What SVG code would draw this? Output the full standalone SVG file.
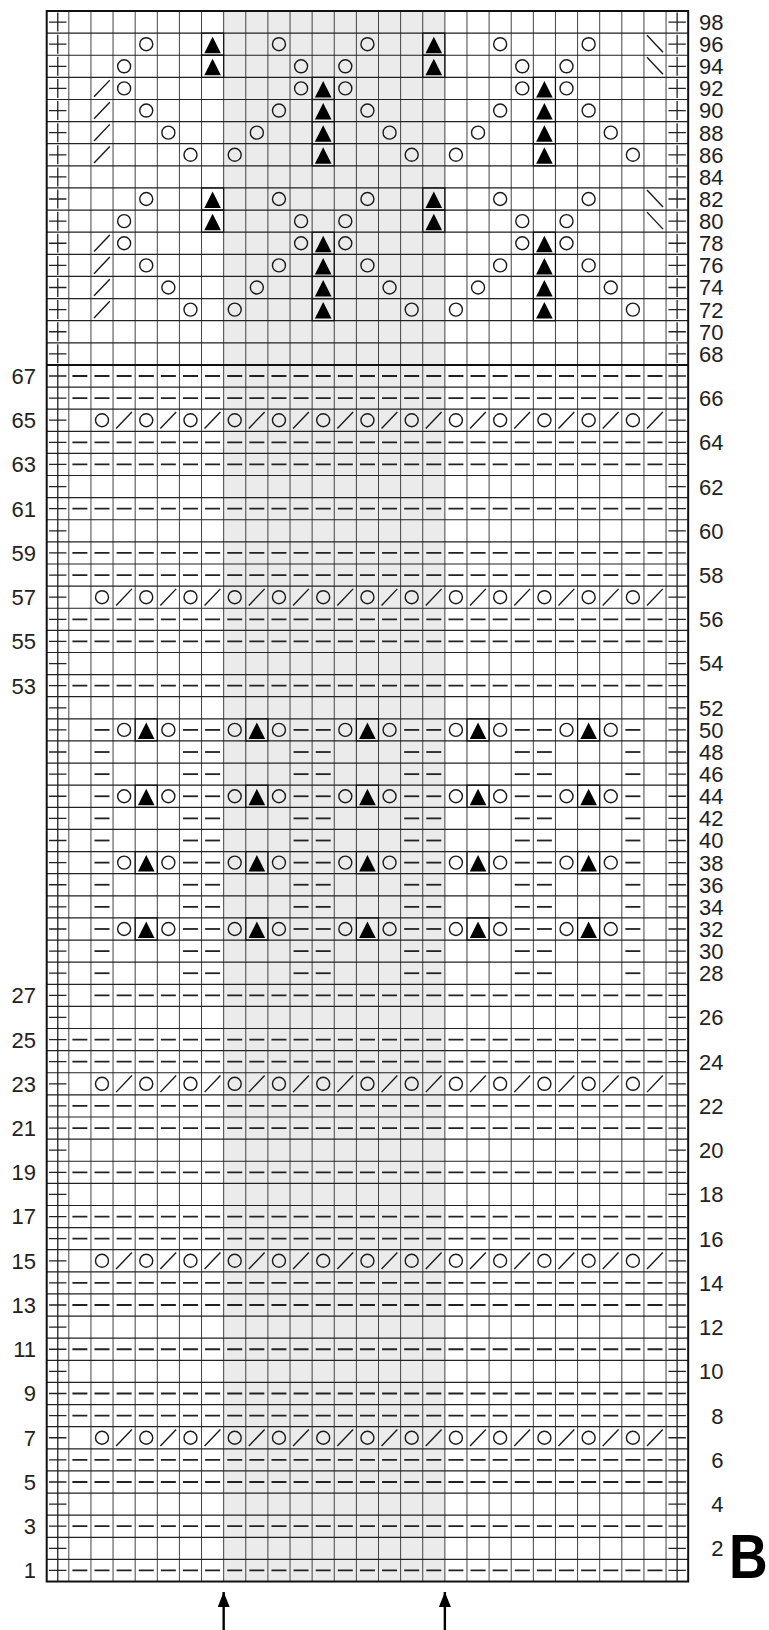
<svg xmlns="http://www.w3.org/2000/svg" width="769" height="1630" viewBox="0 0 769 1630">
<style>
.hl{stroke:#222;stroke-width:1.2;fill:none}
.vl{stroke:#444;stroke-width:1;fill:none}
.sym{stroke:#1a1a1a;stroke-width:1.4;fill:none}
.dash{stroke:#222;stroke-width:1.8;fill:none}
.box{stroke:#111;stroke-width:1.2;fill:none}
.lbl{font-family:"Liberation Sans",Arial,sans-serif;font-size:22px;fill:#222;text-anchor:end}
</style>
<defs>
<circle id="o" r="6.5" class="sym"/>
<line id="s" x1="-8" y1="8.3" x2="7.8" y2="-8.3" class="sym"/>
<line id="b" x1="-8" y1="-9" x2="8" y2="8" class="sym"/>
<g id="t"><rect x="-11.06" y="-11.06" width="22.12" height="22.12" class="box"/><path d="M0,-7.5L8.3,9L-8.3,9Z" fill="#000"/></g>
<line id="d" x1="-7.5" y1="0" x2="7.5" y2="0" class="dash"/>
<line id="drow" x1="72.38" y1="0" x2="662.5" y2="0" class="dash" stroke-dasharray="15 7.12"/>
<line id="drow2" x1="94.5" y1="0" x2="662.5" y2="0" class="dash" stroke-dasharray="15 7.12"/>
<g id="orow">
<use href="#o" x="102"/><use href="#o" x="146.24"/><use href="#o" x="190.48"/><use href="#o" x="234.72"/><use href="#o" x="278.96"/><use href="#o" x="323.2"/><use href="#o" x="367.44"/><use href="#o" x="411.68"/><use href="#o" x="455.92"/><use href="#o" x="500.16"/><use href="#o" x="544.4"/><use href="#o" x="588.64"/><use href="#o" x="632.88"/>
<use href="#s" x="124.12"/><use href="#s" x="168.36"/><use href="#s" x="212.6"/><use href="#s" x="256.84"/><use href="#s" x="301.08"/><use href="#s" x="345.32"/><use href="#s" x="389.56"/><use href="#s" x="433.8"/><use href="#s" x="478.04"/><use href="#s" x="522.28"/><use href="#s" x="566.52"/><use href="#s" x="610.76"/><use href="#s" x="655"/>
</g>
<g id="rowB">
<use href="#d" x="102"/><use href="#d" x="190.48"/><use href="#d" x="212.6"/><use href="#d" x="301.08"/><use href="#d" x="323.2"/><use href="#d" x="411.68"/><use href="#d" x="433.8"/><use href="#d" x="522.28"/><use href="#d" x="544.4"/><use href="#d" x="632.88"/>
</g>
<g id="trip"><use href="#o" x="-22.12"/><use href="#t"/><use href="#o" x="22.12"/></g>
<g id="rowA">
<use href="#rowB"/>
<use href="#trip" x="146.24"/><use href="#trip" x="256.84"/><use href="#trip" x="367.44"/><use href="#trip" x="478.04"/><use href="#trip" x="588.64"/>
</g>
<g id="lace3"><use href="#rowA"/><use href="#rowB" y="22.12"/><use href="#rowB" y="44.24"/></g>
<g id="motif">
<use href="#o" x="146.24" y="44.18"/><use href="#t" x="212.6" y="44.18"/><use href="#o" x="278.96" y="44.18"/><use href="#o" x="367.44" y="44.18"/><use href="#t" x="433.8" y="44.18"/><use href="#o" x="500.16" y="44.18"/><use href="#o" x="588.64" y="44.18"/><use href="#b" x="655" y="44.18"/>
<use href="#o" x="124.12" y="66.3"/><use href="#t" x="212.6" y="66.3"/><use href="#o" x="301.08" y="66.3"/><use href="#o" x="345.32" y="66.3"/><use href="#t" x="433.8" y="66.3"/><use href="#o" x="522.28" y="66.3"/><use href="#o" x="566.52" y="66.3"/><use href="#b" x="655" y="66.3"/>
<use href="#s" x="102" y="88.42"/><use href="#o" x="124.12" y="88.42"/><use href="#o" x="301.08" y="88.42"/><use href="#t" x="323.2" y="88.42"/><use href="#o" x="345.32" y="88.42"/><use href="#o" x="522.28" y="88.42"/><use href="#t" x="544.4" y="88.42"/><use href="#o" x="566.52" y="88.42"/>
<use href="#s" x="102" y="110.54"/><use href="#o" x="146.24" y="110.54"/><use href="#o" x="278.96" y="110.54"/><use href="#t" x="323.2" y="110.54"/><use href="#o" x="367.44" y="110.54"/><use href="#o" x="500.16" y="110.54"/><use href="#t" x="544.4" y="110.54"/><use href="#o" x="588.64" y="110.54"/>
<use href="#s" x="102" y="132.66"/><use href="#o" x="168.36" y="132.66"/><use href="#o" x="256.84" y="132.66"/><use href="#t" x="323.2" y="132.66"/><use href="#o" x="389.56" y="132.66"/><use href="#o" x="478.04" y="132.66"/><use href="#t" x="544.4" y="132.66"/><use href="#o" x="610.76" y="132.66"/>
<use href="#s" x="102" y="154.78"/><use href="#o" x="190.48" y="154.78"/><use href="#o" x="234.72" y="154.78"/><use href="#t" x="323.2" y="154.78"/><use href="#o" x="411.68" y="154.78"/><use href="#o" x="455.92" y="154.78"/><use href="#t" x="544.4" y="154.78"/><use href="#o" x="632.88" y="154.78"/>
</g>
<g id="pcol">
<line x1="0" y1="21.41" x2="0" y2="1581.52" stroke="#222" stroke-width="17.4" stroke-dasharray="1.3 20.82"/>
<line x1="0" y1="12.56" x2="0" y2="364.92" stroke="#222" stroke-width="1.3" stroke-dasharray="19 3.12"/>
<line x1="0" y1="364.92" x2="0" y2="1581.52" stroke="#222" stroke-width="1.3"/>
</g>
<marker id="ah" viewBox="0 0 15 12" refX="15" refY="6" markerWidth="15" markerHeight="12" markerUnits="userSpaceOnUse" orient="auto"><path d="M0,0L15,6L0,12Z" fill="#000"/></marker>
</defs>
<rect width="769" height="1630" fill="#fff"/>
<g id="chart">
<rect id="shade" x="223.66" y="11" width="221.2" height="1570.52" fill="#ebebeb"/>
<path id="vgrid" class="vl" d="M68.82 11V1581.52M90.94 11V1581.52M113.06 11V1581.52M135.18 11V1581.52M157.3 11V1581.52M179.42 11V1581.52M201.54 11V1581.52M223.66 11V1581.52M245.78 11V1581.52M267.9 11V1581.52M290.02 11V1581.52M312.14 11V1581.52M334.26 11V1581.52M356.38 11V1581.52M378.5 11V1581.52M400.62 11V1581.52M422.74 11V1581.52M444.86 11V1581.52M466.98 11V1581.52M489.1 11V1581.52M511.22 11V1581.52M533.34 11V1581.52M555.46 11V1581.52M577.58 11V1581.52M599.7 11V1581.52M621.82 11V1581.52M643.94 11V1581.52M666.06 11V1581.52"/>
<path id="hgrid" class="hl" d="M46.7 33.12H688.18M46.7 55.24H688.18M46.7 77.36H688.18M46.7 99.48H688.18M46.7 121.6H688.18M46.7 143.72H688.18M46.7 165.84H688.18M46.7 187.96H688.18M46.7 210.08H688.18M46.7 232.2H688.18M46.7 254.32H688.18M46.7 276.44H688.18M46.7 298.56H688.18M46.7 320.68H688.18M46.7 342.8H688.18M46.7 387.04H688.18M46.7 409.16H688.18M46.7 431.28H688.18M46.7 453.4H688.18M46.7 475.52H688.18M46.7 497.64H688.18M46.7 519.76H688.18M46.7 541.88H688.18M46.7 564H688.18M46.7 586.12H688.18M46.7 608.24H688.18M46.7 630.36H688.18M46.7 652.48H688.18M46.7 674.6H688.18M46.7 696.72H688.18M46.7 718.84H688.18M46.7 740.96H688.18M46.7 763.08H688.18M46.7 785.2H688.18M46.7 807.32H688.18M46.7 829.44H688.18M46.7 851.56H688.18M46.7 873.68H688.18M46.7 895.8H688.18M46.7 917.92H688.18M46.7 940.04H688.18M46.7 962.16H688.18M46.7 984.28H688.18M46.7 1006.4H688.18M46.7 1028.52H688.18M46.7 1050.64H688.18M46.7 1072.76H688.18M46.7 1094.88H688.18M46.7 1117H688.18M46.7 1139.12H688.18M46.7 1161.24H688.18M46.7 1183.36H688.18M46.7 1205.48H688.18M46.7 1227.6H688.18M46.7 1249.72H688.18M46.7 1271.84H688.18M46.7 1293.96H688.18M46.7 1316.08H688.18M46.7 1338.2H688.18M46.7 1360.32H688.18M46.7 1382.44H688.18M46.7 1404.56H688.18M46.7 1426.68H688.18M46.7 1448.8H688.18M46.7 1470.92H688.18M46.7 1493.04H688.18M46.7 1515.16H688.18M46.7 1537.28H688.18M46.7 1559.4H688.18"/>
<line x1="46.7" y1="364.92" x2="688.18" y2="364.92" stroke="#111" stroke-width="2"/>
<g id="edges"><use href="#pcol" x="57.76"/><use href="#pcol" x="677.12"/></g>
<g id="top-motifs"><use href="#motif"/><use href="#motif" y="154.84"/></g>
<g id="bottom-rows">
<use href="#drow" y="375.98"/><use href="#drow" y="398.1"/><use href="#orow" y="420.22"/><use href="#drow" y="442.34"/><use href="#drow" y="464.46"/><use href="#drow" y="508.7"/>
<use href="#drow" y="552.94"/><use href="#drow" y="575.06"/><use href="#orow" y="597.18"/><use href="#drow" y="619.3"/><use href="#drow" y="641.42"/><use href="#drow" y="685.66"/>
<use href="#lace3" y="729.9"/><use href="#lace3" y="796.26"/><use href="#lace3" y="862.62"/><use href="#lace3" y="928.98"/>
<use href="#drow2" y="995.34"/><use href="#drow" y="1039.58"/><use href="#drow" y="1061.7"/><use href="#orow" y="1083.82"/><use href="#drow" y="1105.94"/><use href="#drow" y="1128.06"/><use href="#drow" y="1172.3"/>
<use href="#drow" y="1216.54"/><use href="#drow" y="1238.66"/><use href="#orow" y="1260.78"/><use href="#drow" y="1282.9"/><use href="#drow" y="1305.02"/><use href="#drow" y="1349.26"/>
<use href="#drow" y="1393.5"/><use href="#drow" y="1415.62"/><use href="#orow" y="1437.74"/><use href="#drow" y="1459.86"/><use href="#drow" y="1481.98"/><use href="#drow" y="1526.22"/><use href="#drow" y="1570.46"/>
</g>
<rect id="border" x="46.7" y="11" width="641.48" height="1570.52" fill="none" stroke="#111" stroke-width="2"/>
</g>
<g id="labels-right" class="lbl">
<text x="723.5" y="30">98</text><text x="723.5" y="52.1">96</text><text x="723.5" y="74.2">94</text><text x="723.5" y="96.3">92</text><text x="723.5" y="118.4">90</text><text x="723.5" y="140.6">88</text><text x="723.5" y="162.7">86</text><text x="723.5" y="184.8">84</text><text x="723.5" y="206.9">82</text><text x="723.5" y="229">80</text><text x="723.5" y="251.2">78</text><text x="723.5" y="273.3">76</text><text x="723.5" y="295.4">74</text><text x="723.5" y="317.5">72</text><text x="723.5" y="339.6">70</text><text x="723.5" y="361.8">68</text>
<text x="723.5" y="406">66</text><text x="723.5" y="450.2">64</text><text x="723.5" y="494.5">62</text><text x="723.5" y="538.7">60</text><text x="723.5" y="583">58</text><text x="723.5" y="627.2">56</text><text x="723.5" y="671.4">54</text><text x="723.5" y="715.7">52</text>
<text x="723.5" y="737.8">50</text><text x="723.5" y="759.9">48</text><text x="723.5" y="782">46</text><text x="723.5" y="804.2">44</text><text x="723.5" y="826.3">42</text><text x="723.5" y="848.4">40</text><text x="723.5" y="870.5">38</text><text x="723.5" y="892.6">36</text><text x="723.5" y="914.8">34</text><text x="723.5" y="936.9">32</text><text x="723.5" y="959">30</text><text x="723.5" y="981.1">28</text>
<text x="723.5" y="1025.4">26</text><text x="723.5" y="1069.6">24</text><text x="723.5" y="1113.8">22</text><text x="723.5" y="1158.1">20</text><text x="723.5" y="1202.3">18</text><text x="723.5" y="1246.6">16</text><text x="723.5" y="1290.8">14</text><text x="723.5" y="1335">12</text><text x="723.5" y="1379.3">10</text><text x="723.5" y="1423.5">8</text><text x="723.5" y="1467.8">6</text><text x="723.5" y="1512">4</text><text x="723.5" y="1556.2">2</text>
</g>
<g id="labels-left" class="lbl">
<text x="36" y="383.9">67</text><text x="36" y="428.1">65</text><text x="36" y="472.4">63</text><text x="36" y="516.6">61</text><text x="36" y="560.8">59</text><text x="36" y="605.1">57</text><text x="36" y="649.3">55</text><text x="36" y="693.6">53</text>
<text x="36" y="1003.2">27</text><text x="36" y="1047.5">25</text><text x="36" y="1091.7">23</text><text x="36" y="1136">21</text><text x="36" y="1180.2">19</text><text x="36" y="1224.4">17</text><text x="36" y="1268.7">15</text><text x="36" y="1312.9">13</text><text x="36" y="1357.2">11</text><text x="36" y="1401.4">9</text><text x="36" y="1445.6">7</text><text x="36" y="1489.9">5</text><text x="36" y="1534.1">3</text><text x="36" y="1578.4">1</text>
</g>
<text id="title" transform="translate(729,1578) scale(0.85,1)" style="font-family:'Liberation Sans',Arial,sans-serif;font-weight:bold;font-size:63px;fill:#000">B</text>
<g id="connectors">
<line x1="223.66" y1="1630" x2="223.66" y2="1592" stroke="#000" stroke-width="2.4" marker-end="url(#ah)"/>
<line x1="444.86" y1="1630" x2="444.86" y2="1592" stroke="#000" stroke-width="2.4" marker-end="url(#ah)"/>
</g>
</svg>
